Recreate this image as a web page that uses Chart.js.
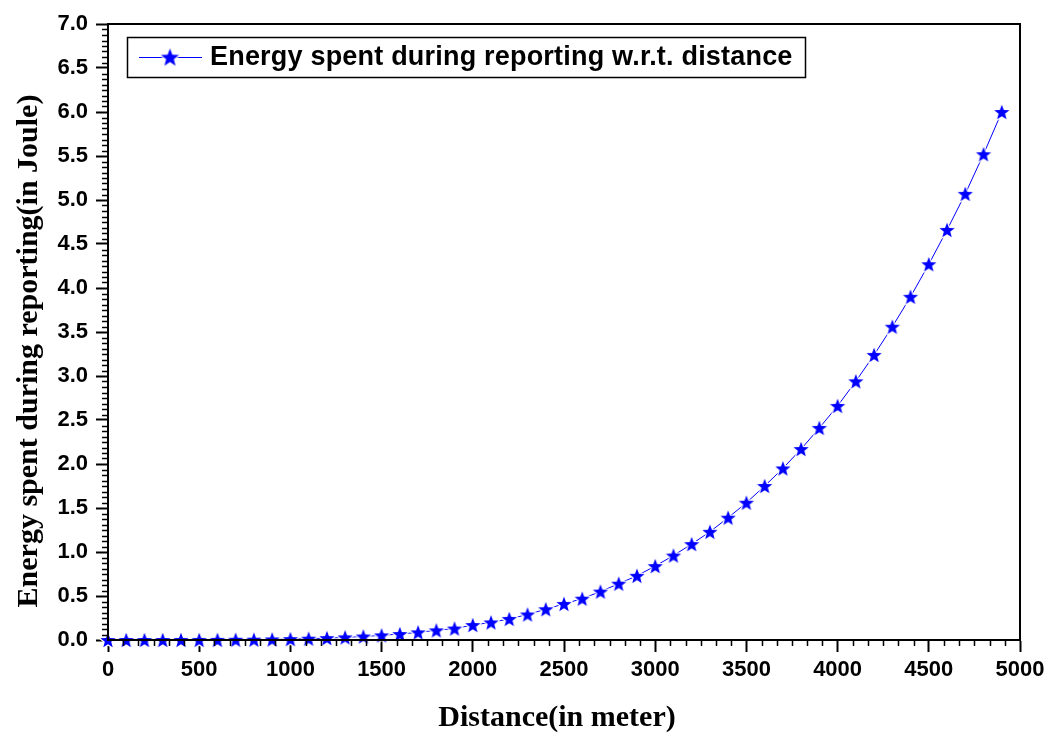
<!DOCTYPE html>
<html>
<head>
<meta charset="utf-8">
<title>Energy spent during reporting</title>
<script src="https://cdn.jsdelivr.net/npm/chart.js@4/dist/chart.umd.min.js"></script>
<style>
  html, body { margin: 0; padding: 0; background: #fff; }
  #wrap { width: 1051px; height: 735px; }
</style>
</head>
<body>
<div id="wrap"><canvas id="energyChart" width="1051" height="735"></canvas></div>
<script>
// distance in meter (x) and energy in Joule (y)
const distances = [0, 100, 200, 300, 400, 500, 600, 700, 800, 900,
  1000, 1100, 1200, 1300, 1400, 1500, 1600, 1700, 1800, 1900,
  2000, 2100, 2200, 2300, 2400, 2500, 2600, 2700, 2800, 2900,
  3000, 3100, 3200, 3300, 3400, 3500, 3600, 3700, 3800, 3900,
  4000, 4100, 4200, 4300, 4400, 4500, 4600, 4700, 4800, 4900];
const energy = [0, 0, 0, 0, 0.001, 0.001, 0.002, 0.003, 0.004, 0.007,
  0.010, 0.015, 0.022, 0.030, 0.040, 0.053, 0.068, 0.087, 0.11, 0.13,
  0.17, 0.20, 0.24, 0.29, 0.35, 0.41, 0.47, 0.55, 0.64, 0.73,
  0.84, 0.96, 1.09, 1.23, 1.39, 1.56, 1.75, 1.95, 2.17, 2.41,
  2.66, 2.94, 3.24, 3.56, 3.90, 4.27, 4.66, 5.07, 5.52, 6.00];
const seriesLabel = "Energy spent during reporting w.r.t. distance";
const xTitle = "Distance(in meter)";
const yTitle = "Energy spent during reporting(in Joule)";

const BLUE = "#0000ff";
const SANS = "'Liberation Sans', Arial, sans-serif";
const SERIF = "'Liberation Serif', 'Times New Roman', serif";

// filled five point star with a thin white rim, used as point image
function makeStar(r) {
  const size = Math.ceil(r * 2 + 4);
  const c = document.createElement("canvas");
  c.width = size; c.height = size;
  const g = c.getContext("2d");
  const cx = size / 2, cy = size / 2 + r * 0.1;
  g.beginPath();
  for (let i = 0; i < 10; i++) {
    const rad = i % 2 === 0 ? r : r * 0.42;
    const a = -Math.PI / 2 + i * Math.PI / 5;
    const px = cx + rad * Math.cos(a), py = cy + rad * Math.sin(a);
    if (i === 0) g.moveTo(px, py); else g.lineTo(px, py);
  }
  g.closePath();
  g.lineJoin = "round";
  g.strokeStyle = "#fff";
  g.lineWidth = 2.5;
  g.stroke();
  g.fillStyle = BLUE;
  g.fill();
  return c;
}
const pointStar = makeStar(8);
const legendStar = makeStar(9.5);

// frame, minor ticks, axis titles and legend box
const decorations = {
  id: "decorations",
  afterDraw(chart) {
    const ctx = chart.ctx;
    const a = chart.chartArea;
    const xs = chart.scales.x, ys = chart.scales.y;
    ctx.save();
    ctx.strokeStyle = "#000";
    ctx.lineWidth = 2;
    ctx.strokeRect(a.left, a.top, a.right - a.left, a.bottom - a.top);

    // minor ticks
    ctx.lineWidth = 1.5;
    ctx.beginPath();
    for (let i = 1; i < 60; i++) {
      if (i % 6 === 0) continue;
      const px = Math.round(xs.getPixelForValue(i * 500 / 6)) + 0.5;
      ctx.moveTo(px, a.bottom);
      ctx.lineTo(px, a.bottom + 6);
    }
    for (let i = 1; i < 112; i++) {
      if (i % 8 === 0) continue;
      const py = Math.round(ys.getPixelForValue(i * 0.5 / 8)) + 0.5;
      ctx.moveTo(a.left, py);
      ctx.lineTo(a.left - 6, py);
    }
    ctx.stroke();

    // axis titles
    ctx.fillStyle = "#000";
    ctx.font = "bold 30px " + SERIF;
    ctx.textAlign = "center";
    ctx.textBaseline = "alphabetic";
    ctx.fillText(xTitle, 557, 726);
    ctx.save();
    ctx.translate(37, 351);
    ctx.rotate(-Math.PI / 2);
    ctx.fillText(yTitle, 0, 0);
    ctx.restore();

    // legend
    ctx.strokeStyle = "#000";
    ctx.lineWidth = 1.5;
    ctx.strokeRect(127.5, 37.5, 678, 40);
    ctx.strokeStyle = BLUE;
    ctx.lineWidth = 1;
    ctx.beginPath();
    ctx.moveTo(139, 57.5);
    ctx.lineTo(202, 57.5);
    ctx.stroke();
    ctx.drawImage(legendStar, 170 - legendStar.width / 2, 57 - legendStar.height / 2);
    ctx.font = "bold 27px " + SANS;
    ctx.letterSpacing = "0.2px";
    ctx.textAlign = "left";
    ctx.textBaseline = "middle";
    ctx.fillStyle = "#000";
    ctx.fillText(seriesLabel, 210, 58);
    ctx.restore();
  }
};

const ctx = document.getElementById("energyChart").getContext("2d");
new Chart(ctx, {
  type: "line",
  data: {
    datasets: [{
      label: seriesLabel,
      data: distances.map((d, i) => ({ x: d, y: energy[i] })),
      borderColor: BLUE,
      borderWidth: 1,
      backgroundColor: BLUE,
      pointStyle: pointStar,
      pointRadius: 8,
      tension: 0,
      clip: false
    }]
  },
  options: {
    responsive: false,
    animation: false,
    layout: { padding: { top: 24, right: 31, left: 0, bottom: 0 } },
    plugins: {
      legend: { display: false },
      tooltip: { enabled: false }
    },
    scales: {
      x: {
        type: "linear",
        min: 0,
        max: 5000,
        afterFit: s => { s.height = 95; },
        border: { display: true, color: "#000", width: 2 },
        grid: { drawOnChartArea: false, drawTicks: true, tickLength: 12, tickColor: "#000", tickWidth: 2 },
        ticks: {
          stepSize: 500,
          color: "#000",
          padding: 5,
          maxRotation: 0,
          font: { family: SANS, size: 22, weight: "bold" },
          callback: v => String(v)
        }
      },
      y: {
        type: "linear",
        min: 0,
        max: 7,
        afterFit: s => { s.width = 108; },
        border: { display: true, color: "#000", width: 2 },
        grid: { drawOnChartArea: false, drawTicks: true, tickLength: 12, tickColor: "#000", tickWidth: 2 },
        ticks: {
          stepSize: 0.5,
          color: "#000",
          padding: 8,
          font: { family: SANS, size: 22, weight: "bold" },
          callback: v => v.toFixed(1)
        }
      }
    }
  },
  plugins: [decorations]
});
</script>
</body>
</html>
